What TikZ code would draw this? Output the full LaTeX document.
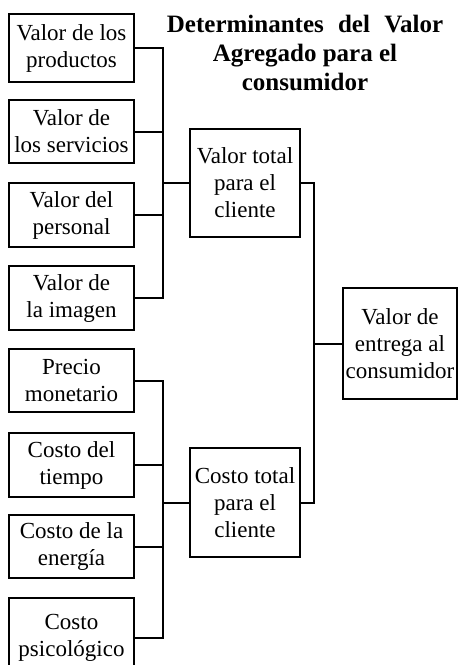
\documentclass[tikz,border=0pt]{standalone}
\usepackage{fontspec}
\setmainfont{Liberation Serif}
\begin{document}
\begin{tikzpicture}[x=1pt,y=-1pt,
  box/.style={draw,line width=2pt,inner sep=0pt,align=center,
    font=\fontsize{23}{27}\selectfont},
  leftbox/.style={box,minimum width=125pt},
  midbox/.style={box,minimum width=110pt},
  conn/.style={line width=2pt,line join=miter},
  titlefont/.style={font=\fontsize{25}{29}\selectfont\bfseries,align=center,inner sep=0pt}]
\useasboundingbox (0,0) rectangle (461,665);
\clip (0,0) rectangle (461,665);
% title
\node[titlefont,anchor=north] (title) at (305,15) {Determinantes\hspace{8pt} del\hspace{8pt} Valor\\Agregado para el\\consumidor};
% left value boxes
\node[leftbox,minimum height=68pt] (p1) at (71.5,48) {Valor de los\\productos};
\node[leftbox,minimum height=63pt] (p2) at (71.5,131.5) {Valor de\\los servicios};
\node[leftbox,minimum height=64pt] (p3) at (71.5,215) {Valor del\\personal};
\node[leftbox,minimum height=64pt] (p4) at (71.5,298) {Valor de\\la imagen};
% left cost boxes
\node[leftbox,minimum height=63pt] (c1) at (71.5,380.5) {Precio\\monetario};
\node[leftbox,minimum height=64pt] (c2) at (71.5,465) {Costo del\\tiempo};
\node[leftbox,minimum height=63pt] (c3) at (71.5,546.5) {Costo de la\\energía};
\node[leftbox,minimum height=80pt] (c4) at (71.5,638) {Costo\\psicológico};
% middle boxes
\node[midbox,minimum height=108pt] (vt) at (245,183) {Valor total\\para el\\cliente};
\node[midbox,minimum height=109pt] (ct) at (245,502.5) {Costo total\\para el\\cliente};
% right box
\node[box,minimum width=114pt,minimum height=111pt] (ve) at (400,343.5) {Valor de\\entrega al\\consumidor};
% bus coordinates
\coordinate (busA) at (163,0);
\coordinate (busC) at (314,0);
% value connectors
\draw[conn] (p1.east) -- (p1.east -| busA) -- (p4.east -| busA) -- (p4.east);
\draw[conn] (p2.east) -- (p2.east -| busA);
\draw[conn] (p3.east) -- (p3.east -| busA);
\draw[conn] (vt.west) -- (vt.west -| busA);
% cost connectors
\draw[conn] (c1.east) -- (c1.east -| busA) -- (c4.east -| busA) -- (c4.east);
\draw[conn] (c2.east) -- (c2.east -| busA);
\draw[conn] (c3.east) -- (c3.east -| busA);
\draw[conn] (ct.west) -- (ct.west -| busA);
% right connectors
\draw[conn] (vt.east) -- (vt.east -| busC) -- (ct.east -| busC) -- (ct.east);
\draw[conn] (ve.west) -- (ve.west -| busC);
\end{tikzpicture}
\end{document}
